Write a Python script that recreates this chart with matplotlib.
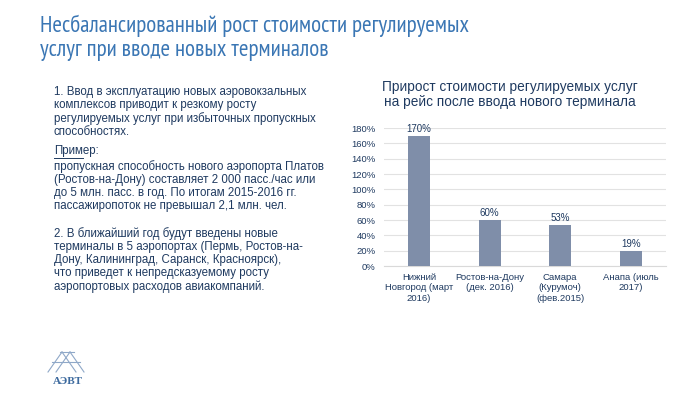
import matplotlib
matplotlib.use("Agg")
import matplotlib.pyplot as plt
from matplotlib.ticker import FuncFormatter
from matplotlib import font_manager

plt.rcParams['font.family'] = ['Liberation Sans', 'DejaVu Sans']
names = {f.name for f in font_manager.fontManager.ttflist}
narrow = 'PT Sans Narrow' if 'PT Sans Narrow' in names else 'Liberation Sans'

categories = ["Нижний\nНовгород (март\n2016)", "Ростов-на-Дону\n(дек. 2016)",
              "Самара\n(Курумоч)\n(фев.2015)", "Анапа (июль\n2017)"]
values = [170, 60, 53, 19]
value_labels = ["170%", "60%", "53%", "19%"]
yticks = [0, 20, 40, 60, 80, 100, 120, 140, 160, 180]

title = "Несбалансированный рост стоимости регулируемых\nуслуг при вводе новых терминалов"
chart_title = "Прирост стоимости регулируемых услуг\nна рейс после ввода нового терминала"
para1 = ("1. Ввод в эксплуатацию новых аэровокзальных\n"
         "комплексов приводит к резкому росту\n"
         "регулируемых услуг при избыточных пропускных\n"
         "способностях.")
example_head = "Пример"
para2 = ("пропускная способность нового аэропорта Платов\n"
         "(Ростов-на-Дону) составляет 2 000 пасс./час или\n"
         "до 5 млн. пасс. в год. По итогам 2015-2016 гг.\n"
         "пассажиропоток не превышал 2,1 млн. чел.")
para3 = ("2. В ближайший год будут введены новые\n"
         "терминалы в 5 аэропортах (Пермь, Ростов-на-\n"
         "Дону, Калининград, Саранск, Красноярск),\n"
         "что приведет к непредсказуемому росту\n"
         "аэропортовых расходов авиакомпаний.")

W, H = 700, 394
fig = plt.figure(figsize=(7, 3.94), dpi=100)
fig.patch.set_facecolor("white")

title_col = "#3A76B4"
text_col = "#1F3A60"
bar_col = "#7F8EA9"

def fx(x): return x / W
def fy(y): return 1 - y / H

fig.text(fx(40), fy(15), title, color=title_col, fontsize=16.6, va="top", ha="left",
         linespacing=1.17, family=[narrow, 'DejaVu Sans'])

fs = 8.3
ls = 1.12
fig.text(fx(54), fy(86), para1, color=text_col, fontsize=fs, va="top", ha="left", linespacing=ls)
fig.text(fx(54), fy(145), example_head + ":", color=text_col, fontsize=fs, va="top", ha="left")
fig.add_artist(plt.Line2D([fx(54), fx(83)], [fy(158), fy(158)], color=text_col, lw=0.7))
fig.text(fx(54), fy(160), para2, color=text_col, fontsize=fs, va="top", ha="left", linespacing=ls)
fig.text(fx(54), fy(227), para3, color=text_col, fontsize=fs, va="top", ha="left", linespacing=ls)

# chart
ax = fig.add_axes([fx(383.7), fy(266), fx(666 - 383.7), (266 - 128) / H])
x = range(len(values))
ax.bar(x, values, width=0.31, color=bar_col, zorder=3)
ax.set_xlim(-0.5, len(values) - 0.5)
ax.set_ylim(0, 180)
ax.set_yticks(yticks)
ax.yaxis.set_major_formatter(FuncFormatter(lambda v, p: f"{int(v)}%"))
ax.grid(axis="y", color="#E2E2E2", lw=0.8, zorder=0)
for s in ["top", "right", "left"]:
    ax.spines[s].set_visible(False)
ax.spines["bottom"].set_color("#D9D9D9")
ax.tick_params(axis="both", length=0, colors=text_col, labelsize=6.8)
ax.tick_params(axis="y", pad=6)
ax.set_xticks(list(x))
ax.set_xticklabels(categories, fontsize=6.8, color=text_col, linespacing=1.2)
ax.tick_params(axis="x", pad=5)
for i, (v, lab) in enumerate(zip(values, value_labels)):
    ax.annotate(lab, (i, v), xytext=(0, 1.5), textcoords="offset points",
                ha="center", va="bottom", fontsize=7, color=text_col)

fig.text(fx(510), fy(80), chart_title, color=text_col, fontsize=9.8, ha="center", va="top",
         linespacing=1.05)

# logo
logo_col = "#3D6A9E"
for a, b in [((48, 372), (62, 352)), ((62, 352), (76, 372)), ((56, 372), (70, 352)),
             ((70, 352), (84, 372)), ((60, 352), (74, 352)), ((52, 362), (80, 362))]:
    fig.add_artist(plt.Line2D([fx(a[0]), fx(b[0])], [fy(a[1]), fy(b[1])], color="#8FA8C8", lw=0.8))
fig.text(fx(68), fy(381), "АЭВТ", color=logo_col, fontsize=8, fontweight="bold",
         ha="center", va="center", family=["Liberation Serif", "DejaVu Serif"])

fig.savefig("out.png", dpi=100)
